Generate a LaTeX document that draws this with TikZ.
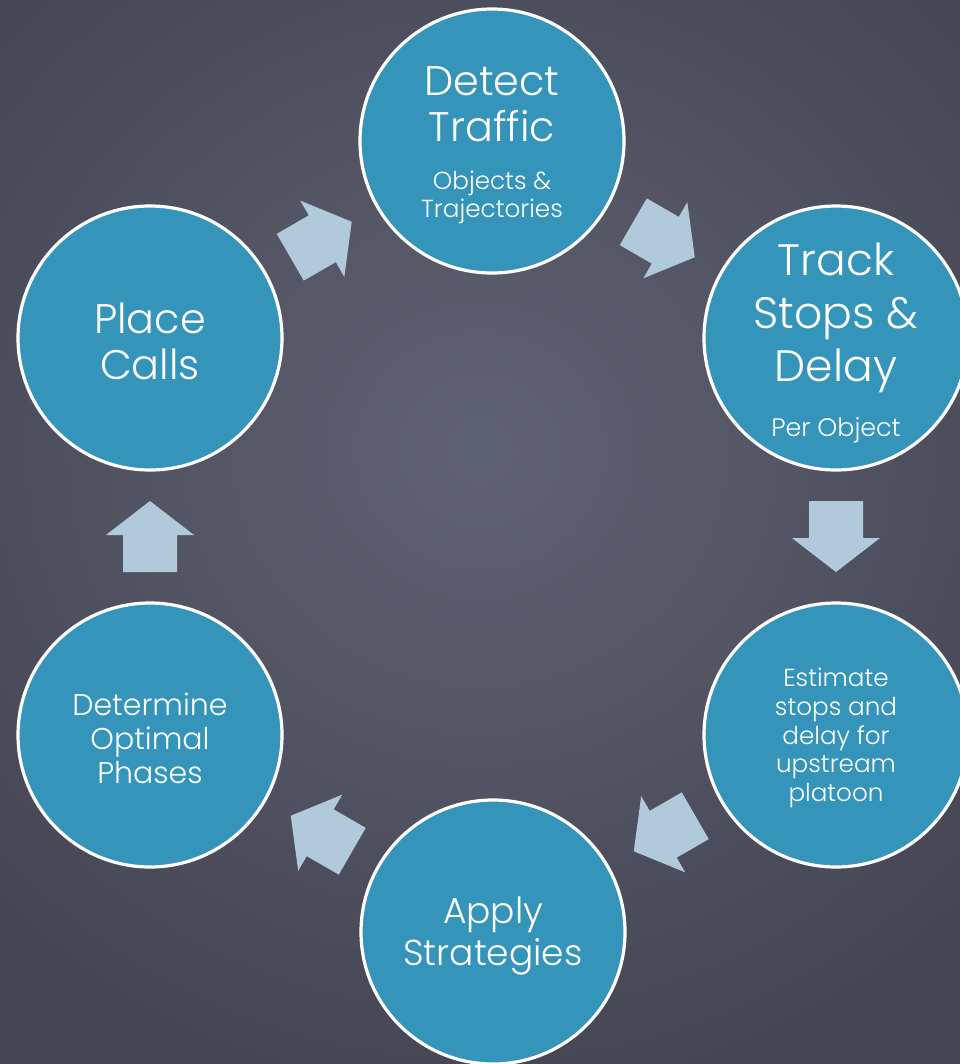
\documentclass[tikz,border=0pt]{standalone}
\usepackage{fontspec}
\setmainfont{Poppins Light}
\usetikzlibrary{calc}
\definecolor{bgin}{HTML}{5F6273}
\definecolor{bgout}{HTML}{454553}
\definecolor{circfill}{HTML}{3594BA}
\definecolor{arrfill}{HTML}{B0C9DB}
\tikzset{
  circ/.style={circle, fill=circfill, draw=white, line width=2.4pt, minimum size=198pt, inner sep=0pt},
  lbl/.style={text=white, align=center, inner sep=0pt},
  blockarrow/.style={fill=arrfill},
}
\newcommand{\blockarr}[3]{%
  \begin{scope}[shift={($(#1)!0.5!(#2)$)}, rotate=#3]
    \fill[blockarrow] (-35.5,-27) -- (1.5,-27) -- (1.5,-44) -- (35.5,0) -- (1.5,44) -- (1.5,27) -- (-35.5,27) -- cycle;
  \end{scope}}
\begin{document}
\begin{tikzpicture}[x=0.75pt,y=-0.75pt]
\useasboundingbox (0,0) rectangle (960,1064);
\shade[inner color=bgin, outer color=bgout] (-200,-200) rectangle (1160,1100);

\node[circ] (dt) at (492,141) {};
\node[circ] (ts) at (836,338) {};
\node[circ] (es) at (836,735) {};
\node[circ] (as) at (493,932) {};
\node[circ] (do) at (150,735) {};
\node[circ] (pc) at (150,338) {};

\node[lbl, font=\fontsize{31}{34.5}\selectfont] (dt1) at (492,104) {Detect\\Traffic};
\node[lbl, font=\fontsize{18.5}{21}\selectfont] (dt2) at (492,197) {Objects \&\\Trajectories};
\node[lbl, font=\fontsize{33}{40}\selectfont] (ts1) at (836,318) {Track\\Stops \&\\Delay};
\node[lbl, font=\fontsize{19}{21}\selectfont] (ts2) at (836,430) {Per Object};
\node[lbl, font=\fontsize{18.5}{21.5}\selectfont] (es1) at (836,738) {Estimate\\stops and\\delay for\\upstream\\platoon};
\node[lbl, font=\fontsize{27}{31.5}\selectfont] (as1) at (493,936) {Apply\\Strategies};
\node[lbl, font=\fontsize{22.5}{25.5}\selectfont] (do1) at (150,738) {Determine\\Optimal\\Phases};
\node[lbl, font=\fontsize{31}{34.5}\selectfont] (pc1) at (150,341) {Place\\Calls};

\blockarr{dt}{ts}{-30}
\blockarr{ts}{es}{-90}
\blockarr{es}{as}{-150}
\blockarr{as}{do}{150}
\blockarr{do}{pc}{90}
\blockarr{pc}{dt}{30}
\end{tikzpicture}
\end{document}
